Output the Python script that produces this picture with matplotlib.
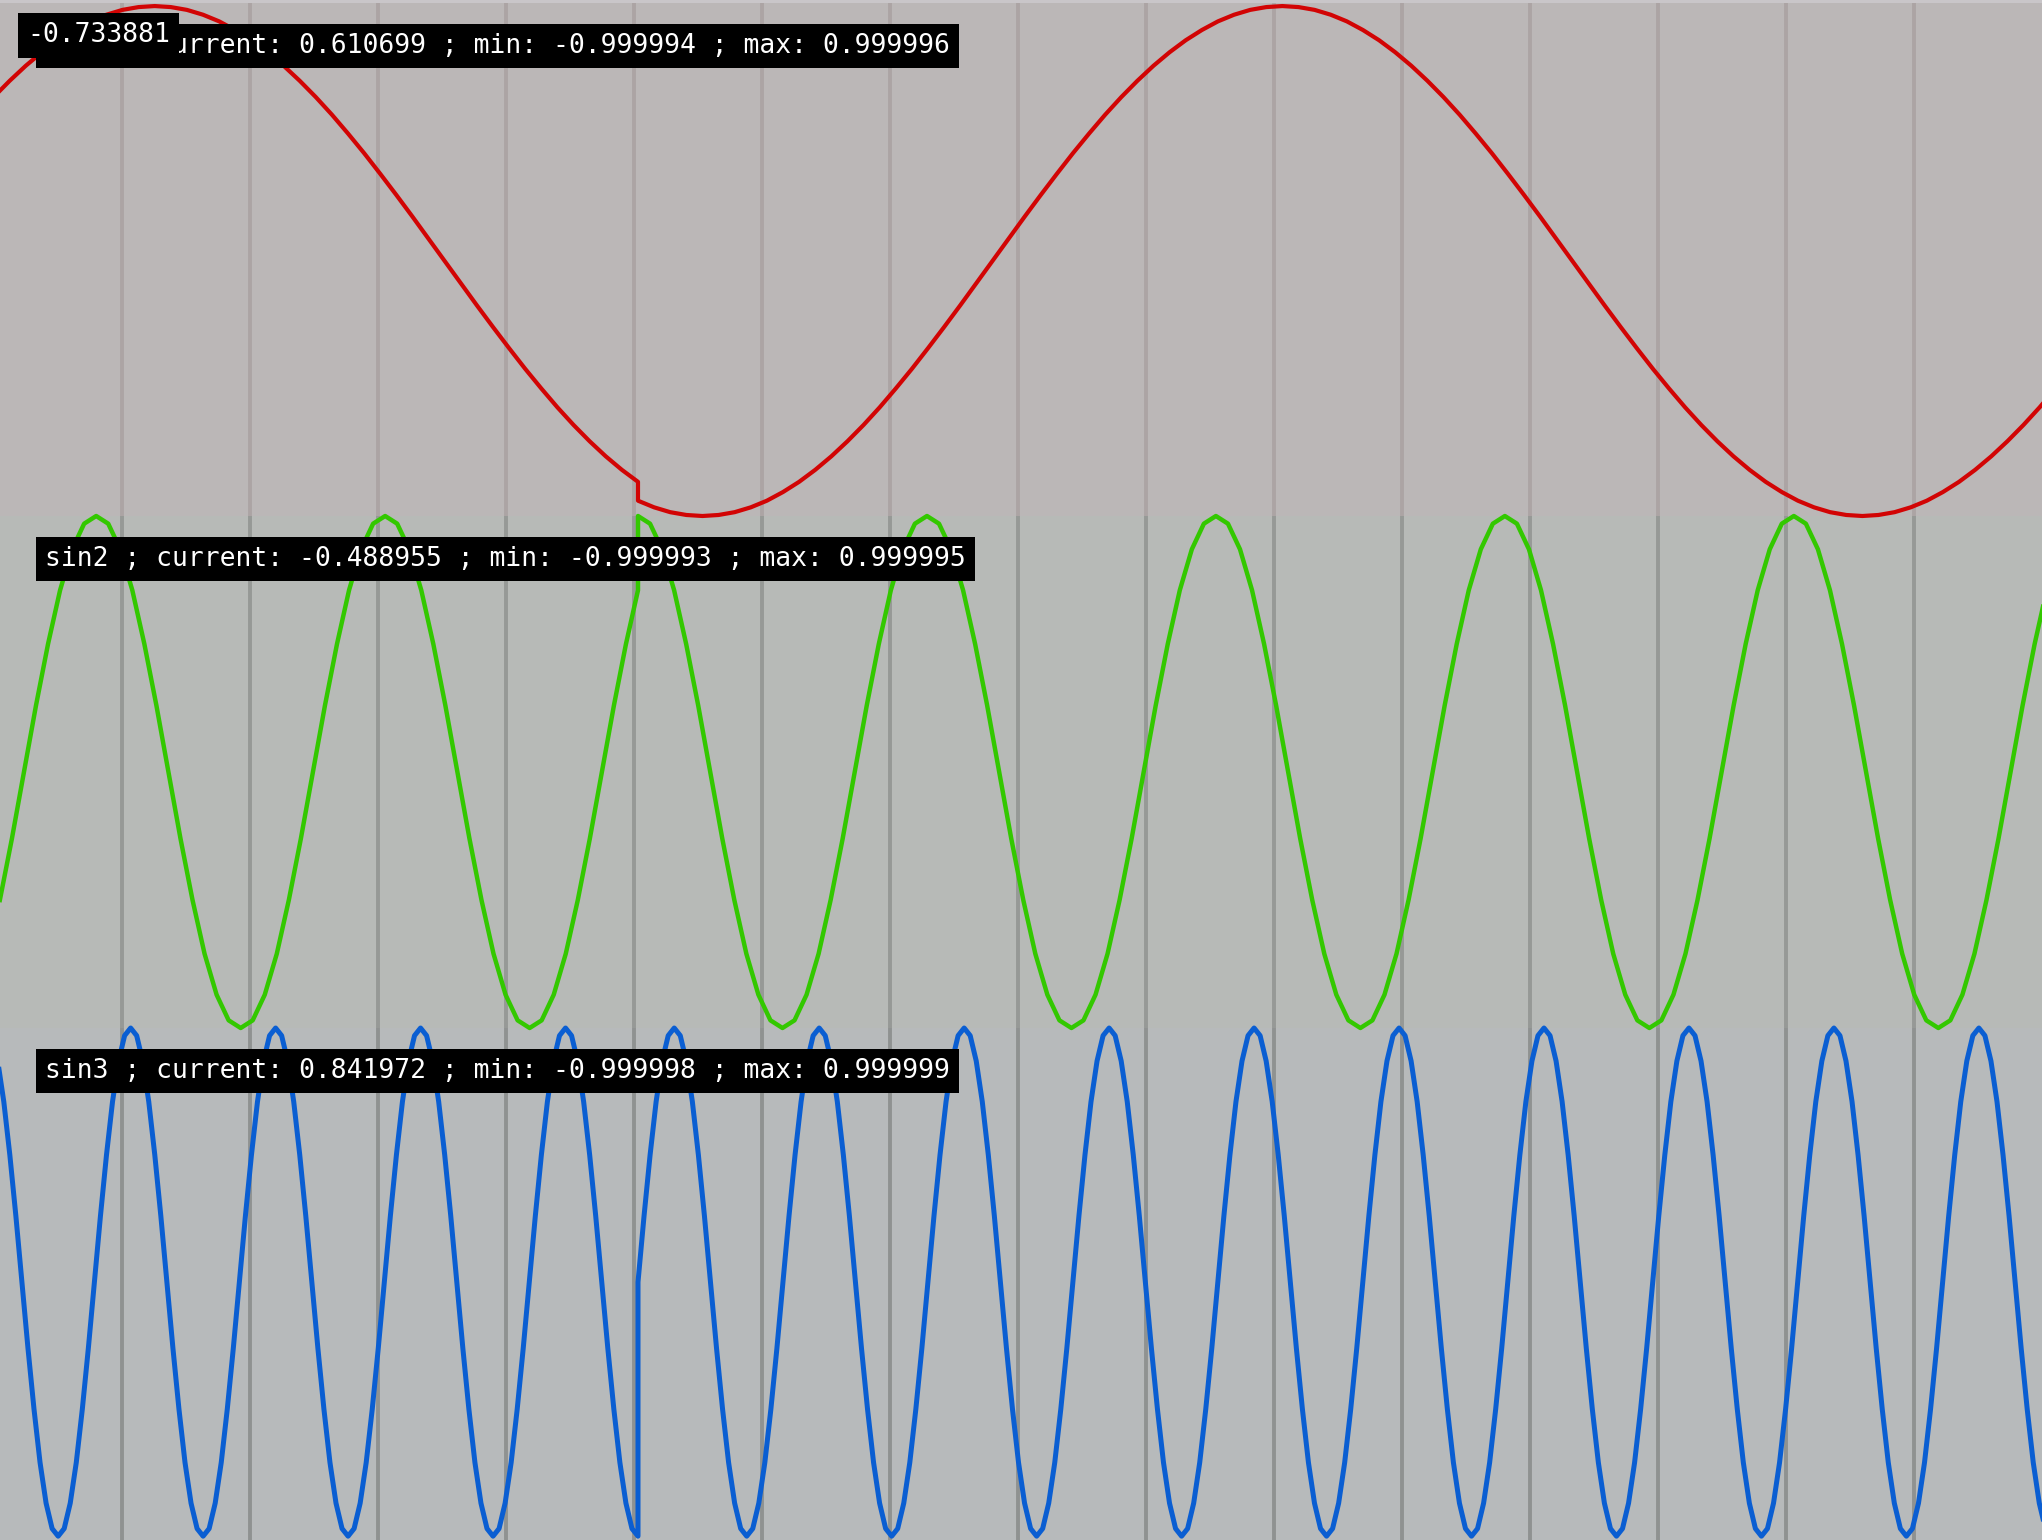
import numpy as np
import matplotlib
matplotlib.use('Agg')
import matplotlib.pyplot as plt
from matplotlib.patches import Rectangle

# scope buffer: 2042 samples wide, write cursor sits at sample 638
N_SAMPLES = 2042
WRITE_POS = 638
GRID_START = 122
GRID_STEP = 128

names = ['sin1', 'sin2', 'sin3']
current = [0.610699, -0.488955, 0.841972]
mins = [-0.999994, -0.999993, -0.999998]
maxs = [0.999996, 0.999995, 0.999999]
hover_value = -0.733881

# each channel = samples left of the cursor (newest) + right of it (oldest)
sin1_step = 16.11
sin1_new = [0.643, 0.707, 0.766, 0.819, 0.866, 0.906, 0.940, 0.966, 0.985, 0.996, 1.0, 0.996,
            0.985, 0.966, 0.940, 0.906, 0.866, 0.819, 0.766, 0.707, 0.643, 0.574, 0.5, 0.423,
            0.342, 0.259, 0.174, 0.087, 0.0, -0.087, -0.174, -0.259, -0.342, -0.423, -0.5, -0.574,
            -0.643, -0.707, -0.766, -0.819, -0.866]
sin1_old = [-0.940, -0.966, -0.985, -0.996, -1.0, -0.996, -0.985, -0.966, -0.940, -0.906, -0.866, -0.819,
            -0.766, -0.707, -0.643, -0.574, -0.5, -0.423, -0.342, -0.259, -0.174, -0.087, 0.0, 0.087,
            0.174, 0.259, 0.342, 0.423, 0.5, 0.574, 0.643, 0.707, 0.766, 0.819, 0.866, 0.906,
            0.940, 0.966, 0.985, 0.996, 1.0, 0.996, 0.985, 0.966, 0.940, 0.906, 0.866, 0.819,
            0.766, 0.707, 0.643, 0.574, 0.5, 0.423, 0.342, 0.259, 0.174, 0.087, 0.0, -0.087,
            -0.174, -0.259, -0.342, -0.423, -0.5, -0.574, -0.643, -0.707, -0.766, -0.819, -0.866, -0.906,
            -0.940, -0.966, -0.985, -0.996, -1.0, -0.996, -0.985, -0.966, -0.940, -0.906, -0.866, -0.819,
            -0.766, -0.707, -0.643, -0.574, -0.5]

sin2_step = 12.04
sin2_new = [-0.5, -0.26, 0.0, 0.26, 0.5, 0.71, 0.87, 0.97, 1.0, 0.97, 0.87, 0.71,
            0.5, 0.26, 0.0, -0.26, -0.5, -0.71, -0.87, -0.97, -1.0, -0.97, -0.87, -0.71,
            -0.5, -0.26, 0.0, 0.26, 0.5, 0.71, 0.87, 0.97, 1.0, 0.97, 0.87, 0.71,
            0.5, 0.26, 0.0, -0.26, -0.5, -0.71, -0.87, -0.97, -1.0, -0.97, -0.87, -0.71,
            -0.5, -0.26, 0.0, 0.26, 0.5, 0.71]
sin2_old = [1.0, 0.97, 0.87, 0.71, 0.5, 0.26, 0.0, -0.26, -0.5, -0.71, -0.87, -0.97,
            -1.0, -0.97, -0.87, -0.71, -0.5, -0.26, 0.0, 0.26, 0.5, 0.71, 0.87, 0.97,
            1.0, 0.97, 0.87, 0.71, 0.5, 0.26, 0.0, -0.26, -0.5, -0.71, -0.87, -0.97,
            -1.0, -0.97, -0.87, -0.71, -0.5, -0.26, 0.0, 0.26, 0.5, 0.71, 0.87, 0.97,
            1.0, 0.97, 0.87, 0.71, 0.5, 0.26, 0.0, -0.26, -0.5, -0.71, -0.87, -0.97,
            -1.0, -0.97, -0.87, -0.71, -0.5, -0.26, 0.0, 0.26, 0.5, 0.71, 0.87, 0.97,
            1.0, 0.97, 0.87, 0.71, 0.5, 0.26, 0.0, -0.26, -0.5, -0.71, -0.87, -0.97,
            -1.0, -0.97, -0.87, -0.71, -0.5, -0.26, 0.0, 0.26, 0.5, 0.71, 0.87, 0.97,
            1.0, 0.97, 0.87, 0.71, 0.5, 0.26, 0.0, -0.26, -0.5, -0.71, -0.87, -0.97,
            -1.0, -0.97, -0.87, -0.71, -0.5, -0.26, 0.0, 0.26, 0.5, 0.71]

sin3_step = 6.04
sin3_new = [0.87, 0.71, 0.5, 0.26, 0.0, -0.26, -0.5, -0.71, -0.87, -0.97, -1.0, -0.97,
            -0.87, -0.71, -0.5, -0.26, 0.0, 0.26, 0.5, 0.71, 0.87, 0.97, 1.0, 0.97,
            0.87, 0.71, 0.5, 0.26, 0.0, -0.26, -0.5, -0.71, -0.87, -0.97, -1.0, -0.97,
            -0.87, -0.71, -0.5, -0.26, 0.0, 0.26, 0.5, 0.71, 0.87, 0.97, 1.0, 0.97,
            0.87, 0.71, 0.5, 0.26, 0.0, -0.26, -0.5, -0.71, -0.87, -0.97, -1.0, -0.97,
            -0.87, -0.71, -0.5, -0.26, 0.0, 0.26, 0.5, 0.71, 0.87, 0.97, 1.0, 0.97,
            0.87, 0.71, 0.5, 0.26, 0.0, -0.26, -0.5, -0.71, -0.87, -0.97, -1.0, -0.97,
            -0.87, -0.71, -0.5, -0.26, 0.0, 0.26, 0.5, 0.71, 0.87, 0.97, 1.0, 0.97,
            0.87, 0.71, 0.5, 0.26, 0.0, -0.26, -0.5, -0.71, -0.87, -0.97, -1.0]
sin3_old = [0.0, 0.26, 0.5, 0.71, 0.87, 0.97, 1.0, 0.97, 0.87, 0.71, 0.5, 0.26,
            0.0, -0.26, -0.5, -0.71, -0.87, -0.97, -1.0, -0.97, -0.87, -0.71, -0.5, -0.26,
            0.0, 0.26, 0.5, 0.71, 0.87, 0.97, 1.0, 0.97, 0.87, 0.71, 0.5, 0.26,
            0.0, -0.26, -0.5, -0.71, -0.87, -0.97, -1.0, -0.97, -0.87, -0.71, -0.5, -0.26,
            0.0, 0.26, 0.5, 0.71, 0.87, 0.97, 1.0, 0.97, 0.87, 0.71, 0.5, 0.26,
            0.0, -0.26, -0.5, -0.71, -0.87, -0.97, -1.0, -0.97, -0.87, -0.71, -0.5, -0.26,
            0.0, 0.26, 0.5, 0.71, 0.87, 0.97, 1.0, 0.97, 0.87, 0.71, 0.5, 0.26,
            0.0, -0.26, -0.5, -0.71, -0.87, -0.97, -1.0, -0.97, -0.87, -0.71, -0.5, -0.26,
            0.0, 0.26, 0.5, 0.71, 0.87, 0.97, 1.0, 0.97, 0.87, 0.71, 0.5, 0.26,
            0.0, -0.26, -0.5, -0.71, -0.87, -0.97, -1.0, -0.97, -0.87, -0.71, -0.5, -0.26,
            0.0, 0.26, 0.5, 0.71, 0.87, 0.97, 1.0, 0.97, 0.87, 0.71, 0.5, 0.26,
            0.0, -0.26, -0.5, -0.71, -0.87, -0.97, -1.0, -0.97, -0.87, -0.71, -0.5, -0.26,
            0.0, 0.26, 0.5, 0.71, 0.87, 0.97, 1.0, 0.97, 0.87, 0.71, 0.5, 0.26,
            0.0, -0.26, -0.5, -0.71, -0.87, -0.97, -1.0, -0.97, -0.87, -0.71, -0.5, -0.26,
            0.0, 0.26, 0.5, 0.71, 0.87, 0.97, 1.0, 0.97, 0.87, 0.71, 0.5, 0.26,
            0.0, -0.26, -0.5, -0.71, -0.87, -0.97, -1.0, -0.97, -0.87, -0.71, -0.5, -0.26,
            0.0, 0.26, 0.5, 0.71, 0.87, 0.97, 1.0, 0.97, 0.87, 0.71, 0.5, 0.26,
            0.0, -0.26, -0.5, -0.71, -0.87, -0.97, -1.0, -0.97, -0.87, -0.71, -0.5, -0.26,
            0.0, 0.26, 0.5, 0.71, 0.87, 0.97, 1.0, 0.97, 0.87, 0.71, 0.5, 0.26,
            0.0, -0.26, -0.5, -0.71, -0.87, -0.97]

channels = [(sin1_new, sin1_old, sin1_step),
            (sin2_new, sin2_old, sin2_step),
            (sin3_new, sin3_old, sin3_step)]

# styling
W, H = 2042, 1540
panels = [(3, 516), (516, 1028), (1028, 1540)]   # pixel rows, top to bottom
bg_colors = ['#bbb7b7', '#b7bab7', '#b7babb']
grid_colors = ['#aca4a4', '#969996', '#8f9291']
line_colors = ['#d20404', '#33c800', '#0a5ed2']
line_widths = [3.0, 3.2, 3.6]
ylims = [(-1.0, 1.012), (-1.0, 1.0), (-1.015, 1.0)]
FONT = 'DejaVu Sans Mono'
FS = 19
PAD = 0.35  # box padding, in font sizes
pad_px = PAD * FS * 100 / 72

fig = plt.figure(figsize=(W / 100, H / 100), dpi=100, facecolor='#c9c6c9')


def make_x(new, old, step):
    x_new = WRITE_POS - step * np.arange(len(new))[::-1]
    x_old = WRITE_POS + step * np.arange(len(old))
    return np.concatenate([x_new, x_old])


box = dict(facecolor='black', edgecolor='none', boxstyle=f'square,pad={PAD}')

for i, (top, bot) in enumerate(panels):
    fig.patches.append(Rectangle((0, 1 - bot / H), 1, (bot - top) / H,
                                 transform=fig.transFigure, facecolor=bg_colors[i],
                                 edgecolor='none', zorder=-5))
    ax = fig.add_axes([0, 1 - bot / H, 1, (bot - top) / H])
    ax.set_facecolor('none')
    ax.set_xlim(0, N_SAMPLES)
    ax.set_ylim(*ylims[i])
    ax.set_xticks(np.arange(GRID_START, N_SAMPLES, GRID_STEP))
    ax.set_yticks([])
    ax.tick_params(length=0, labelbottom=False)
    ax.grid(axis='x', color=grid_colors[i], linewidth=2.8)
    ax.set_axisbelow(True)
    for s in ax.spines.values():
        s.set_visible(False)

    new, old, step = channels[i]
    x = make_x(new, old, step)
    ax.plot(x, new + old, color=line_colors[i], linewidth=line_widths[i],
            clip_on=False, zorder=3, solid_joinstyle='round')

    label = f"{names[i]} ; current: {current[i]:.6f} ; min: {mins[i]:.6f} ; max: {maxs[i]:.6f}"
    ph = bot - top
    ax.text((36 + pad_px) / W, 1 - 43 / ph, label, transform=ax.transAxes,
            color='white', family=FONT, fontsize=FS, va='center', ha='left',
            zorder=10, bbox=box)

    if i == 0:
        # value under the mouse cursor
        ax.text((18 + pad_px) / W, 1 - 32.5 / ph, f"{hover_value:.6f}",
                transform=ax.transAxes, color='white', family=FONT, fontsize=FS,
                va='center', ha='left', zorder=11, bbox=box)

fig.savefig('out.png', dpi=100, facecolor=fig.get_facecolor())
